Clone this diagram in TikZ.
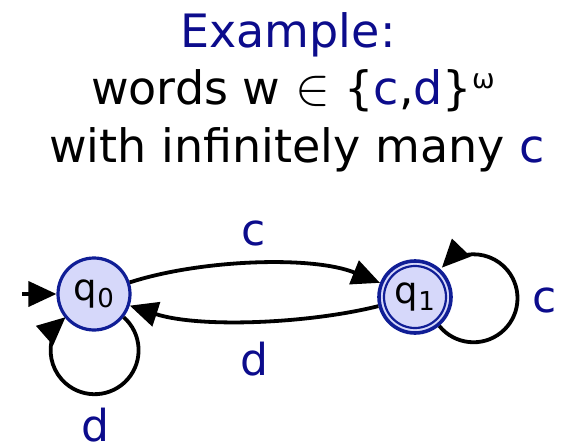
\documentclass[tikz,border=0pt]{standalone}
\usepackage{fontspec}
\usepackage{graphicx}
\setmainfont{DejaVu Sans}
\usetikzlibrary{arrows.meta}
\definecolor{tblue}{RGB}{12,12,140}
\definecolor{nfill}{RGB}{214,216,250}
\definecolor{nborder}{RGB}{16,30,150}
\begin{document}
\begin{tikzpicture}[x=1pt,y=1pt,
  title/.style={anchor=base, inner sep=0pt, font=\fontsize{46}{46}\selectfont},
  lbl/.style={anchor=base, inner sep=0pt, text=tblue, font=\fontsize{44}{44}\selectfont},
  state/.style={circle, draw=nborder, fill=nfill, line width=3.2pt, minimum size=72pt,
    inner sep=0pt, font=\fontsize{37}{37}\selectfont},
  accstate/.style={state, line width=3.6pt, minimum size=72pt},
  ring/.style={draw=nborder, line width=2.2pt},
  edge/.style={line width=3.8pt, -{Triangle[length=28pt,width=25pt]}},
]
\useasboundingbox (0,0) rectangle (569,445);
% title
\node[title, text=tblue] (t1) at (288,397) {Example:};
\node[title] (t2) at (293,340) {words w \scalebox{2.1}{$\in$} \{{\color{tblue}c},{\color{tblue}d}\}\smash{\raisebox{16pt}{\fontsize{27}{27}\selectfont ω}}};
\node[title] (t3) at (297,283) {with infinitely many {\color{tblue}c}};
% states
\node[state] (q0) at (94,151) {q\raisebox{-7pt}{\fontsize{26}{26}\selectfont 0}};
\node[accstate] (q1) at (415,148) {q\raisebox{-7pt}{\fontsize{26}{26}\selectfont 1}};
\draw[ring] (q1.center) circle (31);
% initial arrow
\coordinate (init) at (22,151);
\draw[edge] (init) -- (q0);
% transitions
\draw[edge] (q0) to[out=18, in=158, looseness=0.75] (q1);
\draw[edge] (q1) to[out=194, in=-18, looseness=0.75] (q0);
\draw[edge] (q0.-38) arc[start angle=48.7, delta angle=-277.4, radius=44];
\draw[edge] (q1.-50) arc[start angle=-141, delta angle=277, radius=44];
% labels
\node[lbl] (lc) at (254,200) {c};
\node[lbl] (ld) at (254,70) {d};
\node[lbl] (ld0) at (95,4) {d};
\node[lbl] (lc1) at (545,133) {c};
\end{tikzpicture}
\end{document}
